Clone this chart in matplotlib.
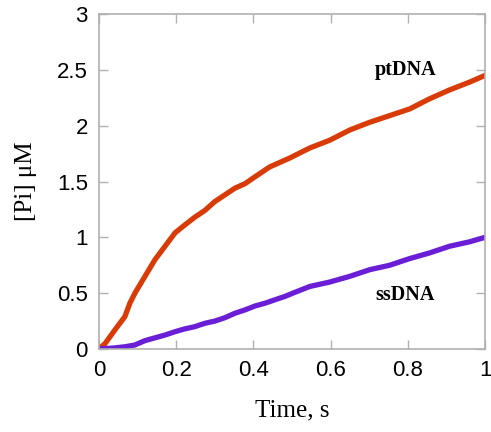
import matplotlib
matplotlib.use("Agg")
import matplotlib.pyplot as plt

# Datos
t_pt = [0.0, 0.016, 0.041, 0.067, 0.080, 0.093, 0.119, 0.145, 0.171, 0.197, 0.222, 0.248,
        0.274, 0.300, 0.326, 0.352, 0.378, 0.399, 0.442, 0.494, 0.546, 0.598, 0.649,
        0.701, 0.753, 0.805, 0.856, 0.908, 0.960, 1.0]
pi_pt = [0.0, 0.05, 0.17, 0.29, 0.41, 0.50, 0.65, 0.80, 0.92, 1.04, 1.11, 1.18,
         1.24, 1.32, 1.38, 1.44, 1.48, 1.53, 1.63, 1.71, 1.80, 1.87, 1.96,
         2.03, 2.09, 2.15, 2.24, 2.32, 2.39, 2.45]

t_ss = [0.0, 0.041, 0.067, 0.093, 0.119, 0.145, 0.171, 0.197, 0.222, 0.248, 0.274, 0.300,
        0.326, 0.352, 0.378, 0.404, 0.430, 0.455, 0.481, 0.502, 0.546, 0.598, 0.649,
        0.701, 0.753, 0.805, 0.856, 0.908, 0.960, 1.0]
pi_ss = [0.0, 0.01, 0.02, 0.036, 0.075, 0.10, 0.125, 0.155, 0.18, 0.20, 0.23, 0.25,
         0.28, 0.32, 0.35, 0.385, 0.41, 0.44, 0.47, 0.50, 0.56, 0.60, 0.65,
         0.71, 0.75, 0.81, 0.86, 0.92, 0.96, 1.0]

x_ticks = [0, 0.2, 0.4, 0.6, 0.8, 1]
x_labels = ["0", "0.2", "0.4", "0.6", "0.8", "1"]
y_ticks = [0, 0.5, 1, 1.5, 2, 2.5, 3]
y_labels = ["0", "0.5", "1", "1.5", "2", "2.5", "3"]

fig = plt.figure(figsize=(4.91, 4.32), dpi=100, facecolor='white')
ax = fig.add_axes([0.2016, 0.1921, 0.7862, 0.7755])

ax.plot(t_pt, pi_pt, color='#d93b06', linewidth=3.8, solid_capstyle='round',
        solid_joinstyle='round')
ax.plot(t_ss, pi_ss, color='#6a1fd6', linewidth=3.8, solid_capstyle='round',
        solid_joinstyle='round')

ax.text(0.795, 2.50, 'ptDNA', family='Liberation Serif', fontweight='bold',
        fontsize=14.5, ha='center', va='center')
ax.text(0.793, 0.48, 'ssDNA', family='Liberation Serif', fontweight='bold',
        fontsize=14.5, ha='center', va='center')

ax.set_xlim(0, 1)
ax.set_ylim(0, 3)
ax.set_xticks(x_ticks)
ax.set_xticklabels(x_labels, family='Liberation Sans', fontsize=16)
ax.set_yticks(y_ticks)
ax.set_yticklabels(y_labels, family='Liberation Sans', fontsize=16)
ax.tick_params(direction='in', length=6.5, width=1, color='#b0b0b0',
               top=True, right=True)
ax.tick_params(axis='x', pad=8)
ax.tick_params(axis='y', pad=8)

for s in ax.spines.values():
    s.set_color('#b0b0b0')
    s.set_linewidth(1.2)

ax.set_xlabel('Time, s', family='Liberation Serif', fontsize=18, labelpad=13)
ax.set_ylabel('[Pi] μM', family='Liberation Serif', fontsize=18, labelpad=14)

plt.savefig('out.png', dpi=100)
